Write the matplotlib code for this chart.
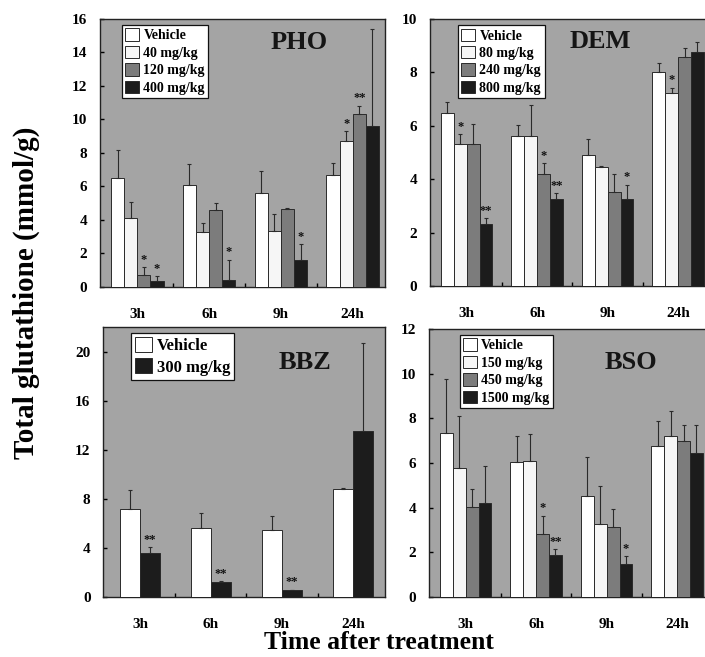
import matplotlib
matplotlib.use("Agg")
import matplotlib.pyplot as plt
import numpy as np
from matplotlib.patches import Patch

plt.rcParams['font.family'] = ['Liberation Serif', 'DejaVu Serif']
plt.rcParams['font.weight'] = 'bold'

groups = ['3h', '6h', '9h', '24h']

pho_labels = ['Vehicle', '40 mg/kg', '120 mg/kg', '400 mg/kg']
pho_means = [[6.53, 6.07, 5.63, 6.69],
             [4.13, 3.27, 3.37, 8.74],
             [0.74, 4.57, 4.63, 10.32],
             [0.34, 0.40, 1.64, 9.62]]
pho_errs = [[1.65, 1.30, 1.30, 0.74],
            [0.94, 0.52, 0.96, 0.58],
            [0.45, 0.42, 0.10, 0.50],
            [0.30, 1.24, 0.90, 5.80]]
pho_stars = [['', '', '', ''],
             ['', '', '', '*'],
             ['*', '', '', '**'],
             ['*', '*', '*', '']]

dem_labels = ['Vehicle', '80 mg/kg', '240 mg/kg', '800 mg/kg']
dem_means = [[6.49, 5.61, 4.89, 8.02],
             [5.30, 5.61, 4.45, 7.22],
             [5.30, 4.20, 3.52, 8.58],
             [2.33, 3.27, 3.27, 8.75]]
dem_errs = [[0.40, 0.42, 0.63, 0.35],
            [0.38, 1.16, 0.05, 0.21],
            [0.75, 0.41, 0.69, 0.32],
            [0.21, 0.21, 0.53, 0.40]]
dem_stars = [['', '', '', ''],
             ['*', '', '', '*'],
             ['', '*', '', ''],
             ['**', '**', '*', '']]

bbz_labels = ['Vehicle', '300 mg/kg']
bbz_means = [[7.16, 5.62, 5.48, 8.79],
             [3.58, 1.19, 0.54, 13.49]]
bbz_errs = [[1.58, 1.20, 1.10, 0.08],
            [0.50, 0.10, 0.06, 7.20]]
bbz_stars = [['', '', '', ''],
             ['**', '**', '**', '']]

bso_labels = ['Vehicle', '150 mg/kg', '450 mg/kg', '1500 mg/kg']
bso_means = [[7.35, 6.03, 4.53, 6.78],
             [5.76, 6.10, 3.29, 7.23],
             [4.05, 2.84, 3.14, 6.98],
             [4.19, 1.86, 1.46, 6.44]]
bso_errs = [[2.43, 1.20, 1.72, 1.12],
            [2.34, 1.20, 1.70, 1.08],
            [0.80, 0.80, 0.80, 0.70],
            [1.69, 0.27, 0.37, 1.24]]
bso_stars = [['', '', '', ''],
             ['', '', '', ''],
             ['', '*', '', ''],
             ['', '**', '*', '']]

colors4 = ['#ffffff', '#f6f6f6', '#7c7c7c', '#1c1c1c']
colors2 = ['#ffffff', '#1c1c1c']
bg = '#a4a4a4'

fig = plt.figure(figsize=(7.05, 6.57), dpi=100)

panels = [
    dict(rect=[0.1418, 0.5632, 0.4043, 0.4079], title='PHO', labels=pho_labels, means=pho_means,
         errs=pho_errs, stars=pho_stars, ymax=16, yticks=np.arange(0, 17, 2), cols=colors4,
         leg=(0.077, 0.978), legfs=10, title_xy=(0.70, 0.914), gw=0.73),
    dict(rect=[0.6099, 0.5647, 0.397, 0.4064], title='DEM', labels=dem_labels, means=dem_means,
         errs=dem_errs, stars=dem_stars, ymax=10, yticks=np.arange(0, 11, 2), cols=colors4,
         leg=(0.10, 0.977), legfs=10, title_xy=(0.61, 0.915), gw=0.73),
    dict(rect=[0.1461, 0.0913, 0.400, 0.411], title='BBZ', labels=bbz_labels, means=bbz_means,
         errs=bbz_errs, stars=bbz_stars, ymax=22, yticks=np.arange(0, 21, 4), cols=colors2,
         leg=(0.099, 0.978), legfs=12, title_xy=(0.716, 0.87), gw=0.56),
    dict(rect=[0.6085, 0.0913, 0.397, 0.408], title='BSO', labels=bso_labels, means=bso_means,
         errs=bso_errs, stars=bso_stars, ymax=12, yticks=np.arange(0, 13, 2), cols=colors4,
         leg=(0.11, 0.978), legfs=10, title_xy=(0.72, 0.875), gw=0.73),
]

x = np.arange(len(groups))
for p in panels:
    ax = fig.add_axes(p['rect'])
    ax.set_facecolor(bg)
    n = len(p['labels'])
    w = p['gw'] / n
    for i in range(n):
        xs = x - p['gw'] / 2 + w * (i + 0.5)
        m = np.array(p['means'][i])
        e = np.array(p['errs'][i])
        ax.bar(xs, m, width=w, color=p['cols'][i], edgecolor='#2a2a2a', linewidth=0.7, zorder=3)
        ax.errorbar(xs, m, yerr=[np.zeros_like(e), e], fmt='none', ecolor='#2a2a2a',
                    elinewidth=0.8, capsize=1.5, capthick=0.8, zorder=4)
        for xi, mi, ei, s in zip(xs, m, e, p['stars'][i]):
            if s:
                ax.text(xi, mi + ei + 0.005 * p['ymax'], s, ha='center', va='bottom',
                        fontsize=9, fontweight='bold', color='#111111', zorder=5)
    ax.set_xlim(-0.52, 3.45)
    ax.set_ylim(0, p['ymax'])
    ax.set_yticks(p['yticks'])
    ax.set_xticks(x)
    ax.set_xticklabels(groups)
    ax.set_xticks([0.5, 1.5, 2.5], minor=True)
    ax.tick_params(axis='x', which='major', length=0, pad=15, labelsize=11)
    ax.tick_params(axis='x', which='minor', direction='in', length=3, width=1)
    ax.tick_params(axis='y', direction='in', length=3, width=1, pad=9, labelsize=11)
    for lab in ax.get_xticklabels() + ax.get_yticklabels():
        lab.set_fontweight('bold')
    for sp in ax.spines.values():
        sp.set_linewidth(1.0)
        sp.set_color('#222222')
    ax.text(p['title_xy'][0], p['title_xy'][1], p['title'], transform=ax.transAxes,
            ha='center', va='center', fontsize=19, fontweight='bold', color='#151515')
    handles = [Patch(facecolor=c, edgecolor='#2a2a2a', linewidth=0.7) for c in p['cols']]
    leg = ax.legend(handles, p['labels'], loc='upper left', bbox_to_anchor=p['leg'],
                    frameon=True, fancybox=False, framealpha=1, edgecolor='#111111',
                    handlelength=1.0, handleheight=1.0, handletextpad=0.3,
                    labelspacing=0.25, borderpad=0.25, borderaxespad=0,
                    prop={'weight': 'bold', 'size': p['legfs']})
    leg.get_frame().set_linewidth(0.9)
    leg.set_zorder(6)

fig.text(0.038, 0.554, 'Total glutathione (mmol/g)', rotation=90, ha='center', va='center',
         fontsize=21, fontweight='bold')
fig.text(0.537, 0.004, 'Time after treatment', ha='center', va='bottom',
         fontsize=18.5, fontweight='bold')

fig.savefig('out.png', dpi=100)
